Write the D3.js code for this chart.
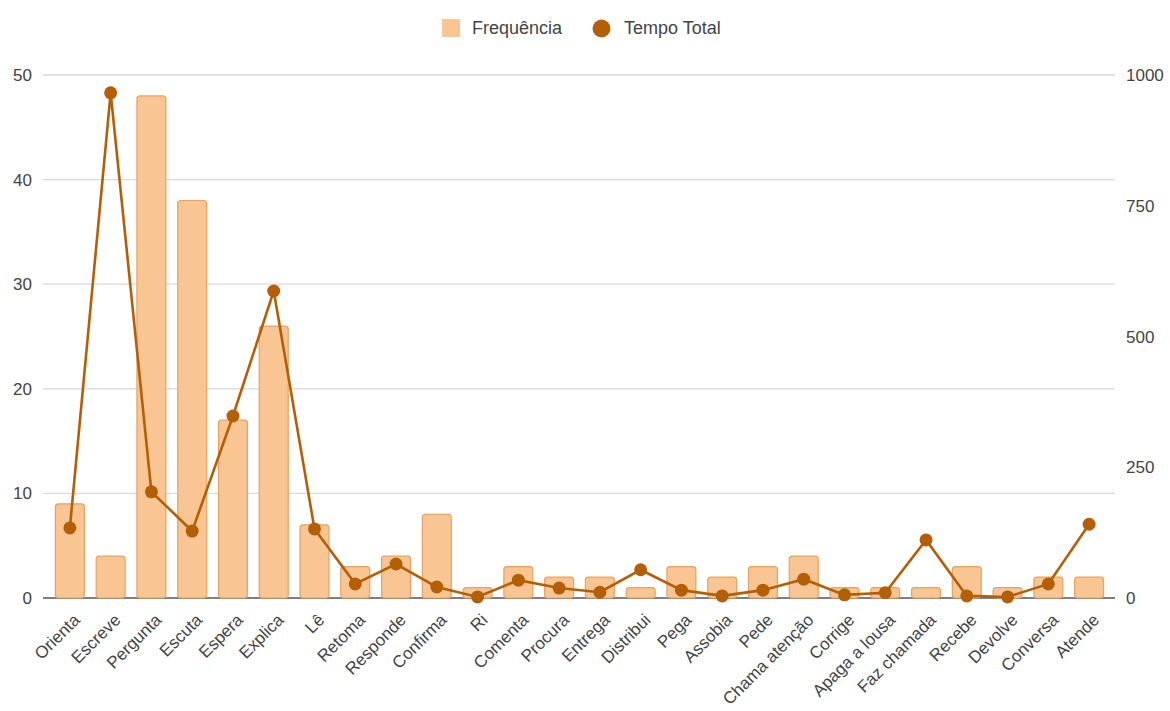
<!DOCTYPE html>
<html><head><meta charset="utf-8">
<script src="https://cdn.jsdelivr.net/npm/d3@7"></script>
<style>body{margin:0;background:#fff;font-family:"Liberation Sans",Arial,sans-serif;}</style>
</head><body><svg id="c" width="1170" height="711"></svg>
<script>
const categories = ["Orienta","Escreve","Pergunta","Escuta","Espera","Explica","Lê","Retoma","Responde","Confirma","Ri","Comenta","Procura","Entrega","Distribui","Pega","Assobia","Pede","Chama atenção","Corrige","Apaga a lousa","Faz chamada","Recebe","Devolve","Conversa","Atende"];
const frequencia = [9,4,48,38,17,26,7,3,4,8,1,3,2,2,1,3,2,3,4,1,1,1,3,1,2,2];
const tempoTotal = [134,966,203,128,348,587,132,27,65,21,2,34,19,11,54,15,4,15,36,6,10,111,4,2,27,141];
const leftTicks = [0,10,20,30,40,50];
const rightTicks = [0,250,500,750,1000];
const seriesNames = ["Frequência","Tempo Total"];

const barFill = "#f9c592", barStroke = "#e6a262", lineColor = "#b45f06";
const font = "'Liberation Sans', Arial, sans-serif";
const svg = d3.select("#c").attr("font-family", font);
const x = d3.scaleBand().domain(categories).range([49.5,1109.5]).paddingInner(0.29).paddingOuter(0.145);
const yL = d3.scaleLinear().domain([0,50]).range([598,75]);
const yR = d3.scaleLinear().domain([0,1000]).range([598,75]);

// gridlines
svg.append("g").selectAll("line").data(leftTicks.filter(d=>d>0)).join("line")
  .attr("x1",43).attr("x2",1115).attr("y1",d=>yL(d)).attr("y2",d=>yL(d))
  .attr("stroke","#d9d9d9").attr("stroke-width",1.3);

// left axis labels
svg.append("g").selectAll("text").data(leftTicks).join("text")
  .attr("x",32).attr("y",d=>yL(d)+6).attr("text-anchor","end")
  .attr("font-size",17).attr("fill","#444").text(d=>d);
// right axis labels
svg.append("g").selectAll("text").data(rightTicks).join("text")
  .attr("x",1126).attr("y",d=>yR(d)+6).attr("text-anchor","start")
  .attr("font-size",17).attr("fill","#444").text(d=>d);

// baseline
svg.append("line").attr("x1",43).attr("x2",1115).attr("y1",yL(0)).attr("y2",yL(0))
  .attr("stroke","#555").attr("stroke-width",1.3);

// bars
svg.append("g").selectAll("rect").data(categories).join("rect")
  .attr("x",d=>x(d)).attr("width",x.bandwidth())
  .attr("y",(d,i)=>yL(frequencia[i])).attr("height",(d,i)=>yL(0)-yL(frequencia[i]))
  .attr("rx",3).attr("fill",barFill).attr("stroke",barStroke).attr("stroke-width",1.2);

// line
const cx = d=>x(d)+x.bandwidth()/2;
svg.append("path").datum(categories)
  .attr("d",d3.line().x(d=>cx(d)).y((d,i)=>yR(tempoTotal[i])))
  .attr("fill","none").attr("stroke",lineColor).attr("stroke-width",2.6);
svg.append("g").selectAll("circle").data(categories).join("circle")
  .attr("cx",cx).attr("cy",(d,i)=>yR(tempoTotal[i])).attr("r",6.5).attr("fill",lineColor);

// x labels
svg.append("g").selectAll("text").data(categories).join("text")
  .attr("transform",d=>`translate(${cx(d)+11},${621}) rotate(-45)`)
  .attr("text-anchor","end").attr("font-size",17).attr("fill","#444").text(d=>d);

// legend
const lg = svg.append("g");
lg.append("rect").attr("x",442).attr("y",19).attr("width",18).attr("height",18).attr("fill",barFill);
lg.append("text").attr("x",472).attr("y",34).attr("font-size",18).attr("fill","#444").text(seriesNames[0]);
lg.append("circle").attr("cx",601.5).attr("cy",28.5).attr("r",9).attr("fill",lineColor);
lg.append("text").attr("x",624).attr("y",34).attr("font-size",18).attr("fill","#444").text(seriesNames[1]);
</script></body></html>
